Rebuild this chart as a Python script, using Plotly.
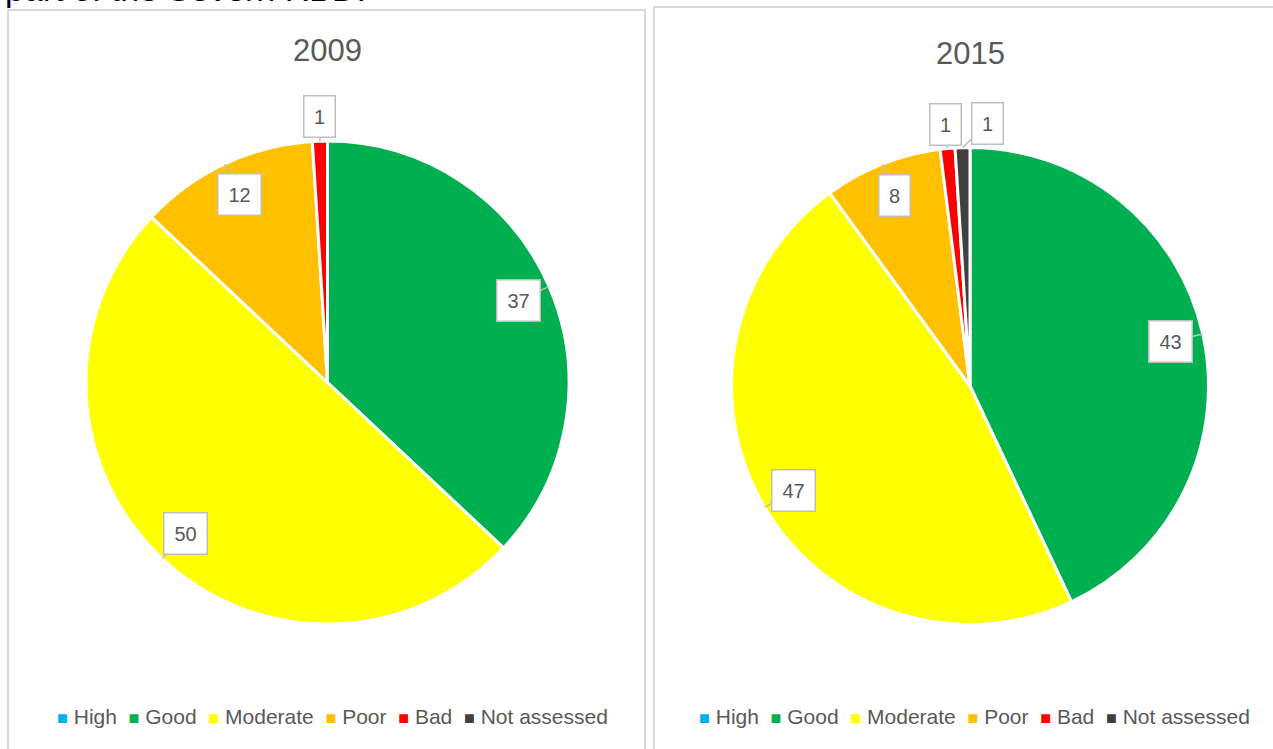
import math
import plotly.graph_objects as go

# ---------------- data ----------------
categories = ["High", "Good", "Moderate", "Poor", "Bad", "Not assessed"]
values_2009 = [0, 37, 50, 12, 1, 0]
values_2015 = [0, 43, 47, 8, 1, 1]
years = ["2009", "2015"]
page_heading = "part of the Severn RBD."

# ---------------- style ----------------
colors = ["#00B0F0", "#00B050", "#FFFF00", "#FFC000", "#FF0000", "#404040"]
W, H = 1273, 749
FONT = "Liberation Sans, Arial, sans-serif"
GREY_TXT = "#595959"
BOX_LINE = "#BFBFBF"

# pie geometry in pixels (centre x, centre y from top, radius) and panel frames
pie_geo = [
    dict(cx=327.5, cy=382.5, r=241.5, title_y=50, panel=(8, 645, 10), legend_x=332.5),
    dict(cx=970.0, cy=386.0, r=238.5, title_y=54, panel=(654, 1300, 7), legend_x=974.5),
]
label_nudge = {("2015", "Not assessed"): (26, 0)}
LEGEND_Y = 716


def px_x(x):
    return x / W


def px_y(y):
    return 1 - y / H


fig = go.Figure()
annotations = []
shapes = []

for year, vals, g in zip(years, [values_2009, values_2015], pie_geo):
    r = g["r"]
    fig.add_trace(go.Pie(
        labels=categories,
        values=vals,
        sort=False,
        direction="clockwise",
        rotation=0,
        marker=dict(colors=colors, line=dict(color="white", width=3)),
        textinfo="none",
        hoverinfo="label+value",
        showlegend=False,
        domain=dict(x=[px_x(g["cx"] - r), px_x(g["cx"] + r)],
                    y=[px_y(g["cy"] + r), px_y(g["cy"] - r)]),
    ))

    # callout labels derived from slice angles
    total = sum(vals)
    cum = 0
    for cat, v in zip(categories, vals):
        if v <= 0:
            cum += v
            continue
        theta = math.radians((cum + v / 2) / total * 360)
        cum += v
        s, c = math.sin(theta), math.cos(theta)
        tip_x = g["cx"] + r * s
        tip_y = g["cy"] - r * c
        fac = 0.86 if v >= 5 else 1.1
        box_x = g["cx"] + fac * r * s
        box_y = g["cy"] - fac * r * c
        nx, ny = label_nudge.get((year, cat), (0, 0))
        box_x += nx
        box_y += ny
        txt = str(v)
        annotations.append(dict(
            x=px_x(tip_x), y=px_y(tip_y), xref="paper", yref="paper",
            ax=box_x - tip_x, ay=box_y - tip_y, axref="pixel", ayref="pixel",
            text=txt, showarrow=True, arrowhead=0, arrowwidth=1.5,
            arrowcolor=BOX_LINE, standoff=0,
            font=dict(family=FONT, size=20, color=GREY_TXT),
            bgcolor="white", bordercolor=BOX_LINE, borderwidth=1.5,
            borderpad=6, width=12 * len(txt) + 6, height=28,
        ))

    # title
    annotations.append(dict(
        x=px_x(g["cx"]), y=px_y(g["title_y"]), xref="paper", yref="paper",
        text=year, showarrow=False, xanchor="center", yanchor="middle",
        font=dict(family=FONT, size=31, color=GREY_TXT),
    ))

    # legend (one per panel)
    parts = []
    for cat, col in zip(categories, colors):
        parts.append(f"<span style='color:{col};font-size:18px'>\u25A0</span>\u00a0{cat}")
    annotations.append(dict(
        x=px_x(g["legend_x"]), y=px_y(LEGEND_Y), xref="paper", yref="paper",
        text="\u00a0\u00a0".join(parts), showarrow=False,
        xanchor="center", yanchor="middle",
        font=dict(family=FONT, size=21, color=GREY_TXT),
    ))

    # panel frame
    x0, x1, top = g["panel"]
    shapes.append(dict(
        type="rect", xref="paper", yref="paper",
        x0=px_x(x0), x1=px_x(x1), y0=-0.1, y1=px_y(top),
        line=dict(color="#D9D9D9", width=2), fillcolor="rgba(0,0,0,0)",
        layer="below",
    ))

# heading text cut off at the top of the page (as in the reference)
annotations.append(dict(
    x=px_x(3), y=px_y(10), xref="paper", yref="paper",
    text=page_heading, showarrow=False, xanchor="left", yanchor="bottom",
    font=dict(family=FONT, size=34, color="#000000"),
))

fig.update_layout(
    width=W, height=H,
    margin=dict(l=0, r=0, t=0, b=0),
    paper_bgcolor="white", plot_bgcolor="white",
    annotations=annotations,
    shapes=shapes,
)

fig.write_html("out.html", config={"displayModeBar": False},
               post_script="document.body.style.margin='0';")
